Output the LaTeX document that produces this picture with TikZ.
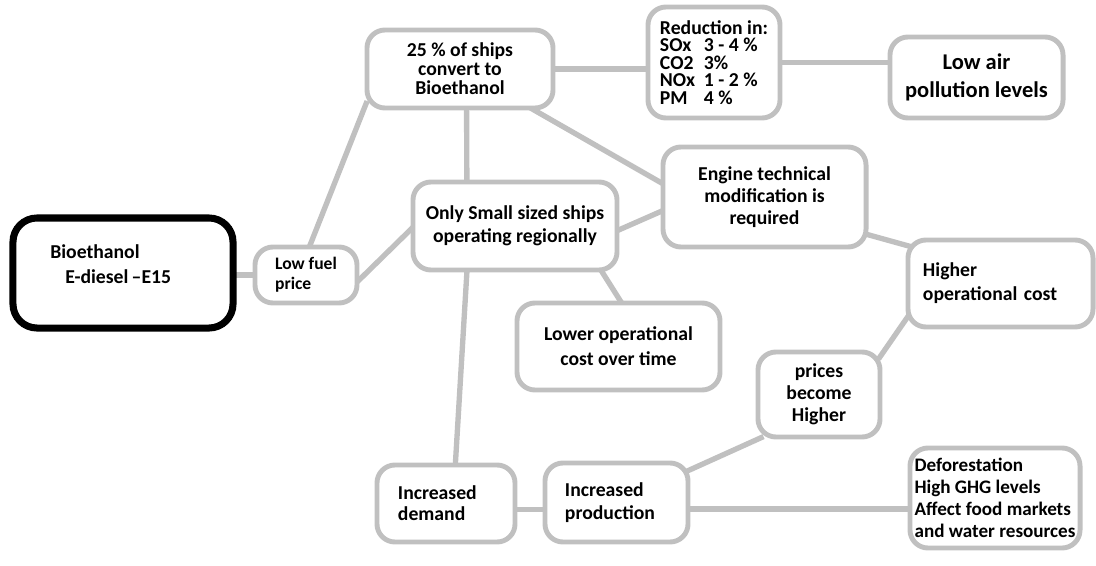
\documentclass[tikz,border=0pt]{standalone}
\usepackage{fontspec}
\setmainfont{Carlito}
\usepackage{tikz}
\usetikzlibrary{backgrounds}
\usetikzlibrary{calc}

\definecolor{boxgray}{RGB}{192,192,192}

\begin{document}
\begin{tikzpicture}[x=0.025cm, y=-0.025cm,
    concept/.style={rectangle, rounded corners=0.45cm, draw=boxgray, line width=3.5pt, fill=white, inner sep=2pt, align=center, font=\fontsize{14}{17}\selectfont\bfseries},
    mainconcept/.style={concept, draw=black, line width=5pt, rounded corners=0.6cm},
    link/.style={draw=boxgray, line width=3.8pt, shorten <=-5pt, shorten >=-5pt}]

        % Canvas size
        \useasboundingbox (0,0) rectangle (1096,565);

        % Main fuel node
        \node[mainconcept, minimum width=5.5cm, minimum height=2.75cm] (bio) at (123,273) {};
        \node[anchor=west, align=left, inner sep=0pt, font=\fontsize{14}{17.7}\selectfont\bfseries] (biotext) at (50,264) {Bioethanol\\\hspace*{0.375cm}E-diesel\,--E15};

        % First step
        \node[concept, minimum width=2.55cm, minimum height=1.4cm, align=left, font=\fontsize{12.5}{14.2}\selectfont\bfseries] (low) at (306,275) {Low fuel\\price};

        % Upper branch
        \node[concept, minimum width=4.65cm, minimum height=1.95cm, font=\fontsize{14}{13.5}\selectfont\bfseries] (ships) at (460,69) {25 \% of ships\\convert to\\Bioethanol};
        \node[concept, minimum width=3.3cm, minimum height=2.775cm, align=left, font=\fontsize{14}{12.5}\selectfont\bfseries] (red) at (714,62.5) {Reduction in:\\\makebox[1.1cm][l]{SOx}3 - 4 \%\\\makebox[1.1cm][l]{CO2}3\%\\\makebox[1.1cm][l]{NOx}1 - 2 \%\\\makebox[1.1cm][l]{PM}4 \%};
        \node[concept, minimum width=4.325cm, minimum height=2.025cm, font=\fontsize{16}{20}\selectfont\bfseries] (air) at (976.5,77.5) {Low air\\pollution levels};

        % Middle branch
        \node[concept, minimum width=5.1cm, minimum height=2.2cm, font=\fontsize{14}{16.3}\selectfont\bfseries] (small) at (515,226) {Only Small sized ships\\operating regionally};
        \node[concept, minimum width=5.075cm, minimum height=2.5cm, font=\fontsize{14}{15.6}\selectfont\bfseries] (eng) at (764.5,197) {Engine technical\\modification is\\required};
        \node[concept, minimum width=4.625cm, minimum height=2.175cm, align=left, text width=3.875cm] (high) at (1000.5,283.5) {Higher\\operational cost};
        \node[concept, minimum width=5.075cm, minimum height=2.175cm, font=\fontsize{14}{17.7}\selectfont\bfseries] (lower) at (618.5,346.5) {Lower operational\\cost over time};
        \node[concept, minimum width=3.05cm, minimum height=2.125cm, font=\fontsize{14}{15.6}\selectfont\bfseries] (prices) at (819,394.5) {prices\\become\\Higher};

        % Lower branch
        \node[concept, minimum width=3.45cm, minimum height=1.925cm, align=left, text width=2.4cm, font=\fontsize{14}{15}\selectfont\bfseries] (demand) at (446,503.5) {Increased\\demand};
        \node[concept, minimum width=3.575cm, minimum height=1.975cm, align=left, text width=2.575cm, font=\fontsize{14}{16.3}\selectfont\bfseries] (prod) at (616.5,502.5) {Increased\\production};
        \node[concept, minimum width=4.25cm, minimum height=2.5cm, align=left, font=\fontsize{13.6}{15.6}\selectfont\bfseries] (defor) at (995,498) {Deforestation\\High GHG levels\\Affect food markets\\and water resources};

        % Connectors behind the boxes
        \begin{scope}[on background layer]
          \draw[link] (bio.east |- low.west) -- (low.west);
          \draw[link] (low.82) -- (ships.202);
          \draw[link] (low.-5) -- (small.182);
          \draw[link] (ships.east) -- (ships.east -| red.west);
          \draw[link] (red.east) -- (red.east -| air.west);
          \draw[link] (ships.-81) -- (small.136);
          \draw[link] (ships.-29) -- (eng.172);
          \draw[link] (small.-2) -- (eng.188);
          \draw[link] (small.-28) -- (lower.88);
          \draw[link] (small.224) -- (demand.77);
          \draw[link] (eng.-20) -- (high.158);
          \draw[link] (high.201) -- (prices.33);
          \draw[link] (demand.-5) -- (demand.-5 -| prod.west);
          \draw[link] (prod.24) -- (prices.216);
          \draw[link] (prod.-5) -- (prod.-5 -| defor.west);
        \end{scope}

\end{tikzpicture}
\end{document}
